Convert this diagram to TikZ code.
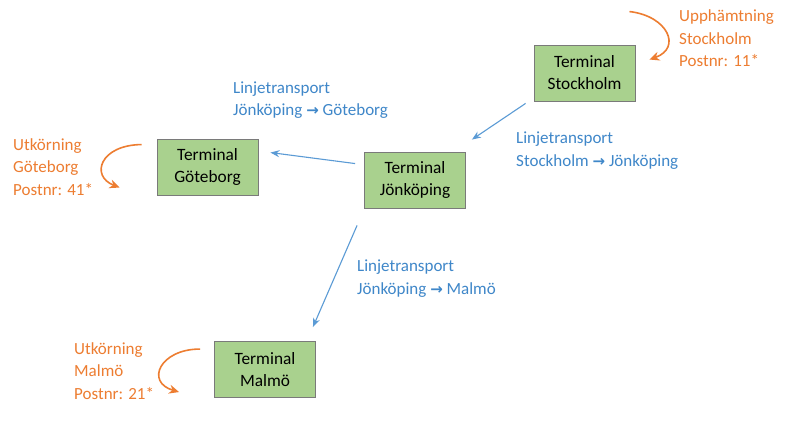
\documentclass[tikz,border=0pt]{standalone}
\usepackage{fontspec}
\setmainfont{Carlito}
\newfontfamily\symfont{DejaVu Sans Bold}
\usetikzlibrary{arrows.meta,calc}
\definecolor{boxgreen}{HTML}{A9D18E}
\definecolor{boxedge}{HTML}{7A7A7A}
\definecolor{lineblue}{HTML}{5B9BD5}
\definecolor{textblue}{HTML}{3F87C9}
\definecolor{orng}{HTML}{ED7D31}
\newcommand{\ra}{{\symfont\fontsize{15}{22}\selectfont →}}
\begin{document}
\begin{tikzpicture}[x=1pt,y=-1pt,
  term/.style={draw=boxedge,fill=boxgreen,line width=0.9pt,minimum width=101pt,minimum height=56pt,inner sep=0pt,align=center,font=\fontsize{17.3}{22}\selectfont},
  lbl/.style={anchor=base west,inner sep=0pt,align=left,font=\fontsize{17}{22.5}\selectfont},
  bluelbl/.style={lbl,text=textblue},
  orlbl/.style={lbl,text=orng},
  bluearrow/.style={draw=lineblue,line width=1.1pt,-{Stealth[length=9pt,width=7pt]}},
  orarrow/.style={draw=orng,line width=1.6pt,-{Stealth[length=10pt,width=9pt]}}]
\useasboundingbox (0,0) rectangle (800,425);
\fill[white] (0,0) rectangle (800,425);

\node[term] (sth) at (584.5,73) {Terminal\\Stockholm};
\node[term] (got) at (207.5,167) {Terminal\\Göteborg};
\node[term] (jon) at (415,180) {Terminal\\Jönköping};
\node[term] (mal) at (265,369.5) {Terminal\\Malmö};

% blue line transports
\draw[bluearrow] ($(sth.south west)+(-8,2)$) -- ($(jon.north east)+(6,-12)$);
\draw[bluearrow] ($(jon.north west)+(-9,12)$) -- ($(got.north east)+(12,14)$);
\draw[bluearrow] ($(jon.south west)+(-7,17)$) -- ($(mal.north east)+(-3,-14)$);

% orange pickup / delivery
\coordinate (sthA) at ($(sth.north east)+(-6,-33)$);
\coordinate (sthB) at ($(sth.north east)+(14,15)$);
\draw[orarrow] (sthA) .. controls (668,16) and (682,48) .. (sthB);
\coordinate (gotA) at ($(got.north west)+(-15,6)$);
\coordinate (gotB) at ($(got.north west)+(-37,49)$);
\draw[orarrow] (gotA) .. controls (100,145) and (90,176) .. (gotB);
\coordinate (malA) at ($(mal.north west)+(-14,8)$);
\coordinate (malB) at ($(mal.north west)+(-35,51)$);
\draw[orarrow] (malA) .. controls (160,349) and (145,382) .. (malB);

% labels (anchor = baseline of last line)
\node[orlbl] (lsth) at (679,67) {Upphämtning\\Stockholm\\Postnr: 11*};
\node[orlbl] (lgot) at (13,195) {Utkörning\\Göteborg\\Postnr: 41*};
\node[orlbl] (lmal) at (74,399) {Utkörning\\Malmö\\Postnr: 21*};
\node[bluelbl] (ljg) at (233,116) {Linjetransport\\Jönköping \ra{} Göteborg};
\node[bluelbl] (lsj) at (516,166) {Linjetransport\\Stockholm \ra{} Jönköping};
\node[bluelbl] (ljm) at (357,294) {Linjetransport\\Jönköping \ra{} Malmö};
\end{tikzpicture}
\end{document}
